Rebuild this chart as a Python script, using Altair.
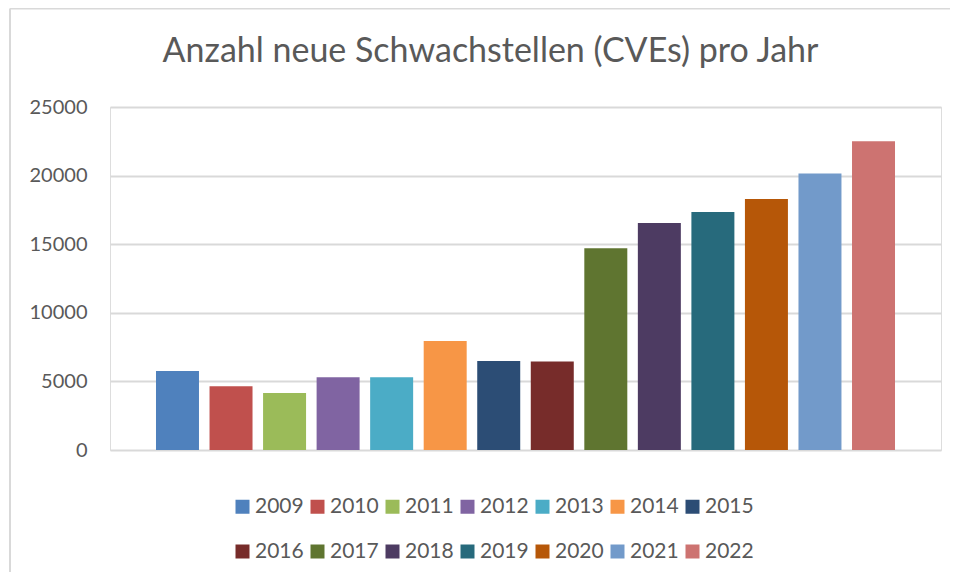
import altair as alt
import pandas as pd

years = ["2009", "2010", "2011", "2012", "2013", "2014", "2015",
         "2016", "2017", "2018", "2019", "2020", "2021", "2022"]
cves = [5750, 4650, 4150, 5300, 5300, 7940, 6480,
        6450, 14700, 16550, 17350, 18300, 20150, 22500]
colors = ["#4F81BD", "#C0504D", "#9BBB59", "#8064A2", "#4BACC6", "#F79646", "#2C4D75",
          "#772C2A", "#5F7530", "#4D3B62", "#276A7C", "#B65708", "#729ACA", "#CD7371"]
y_ticks = [0, 5000, 10000, 15000, 20000, 25000]
title_text = "Anzahl neue Schwachstellen (CVEs) pro Jahr"

df = pd.DataFrame({"Jahr": years, "CVEs": cves})

FONT = "Lato"
TXT = "#595959"
GRID = "#d9d9d9"

bars = alt.Chart(df).mark_bar().encode(
    x=alt.X("Jahr:N", sort=years, axis=None,
            scale=alt.Scale(paddingInner=0.197, paddingOuter=0.859)),
    y=alt.Y("CVEs:Q",
            scale=alt.Scale(domain=[0, 25000], nice=False),
            axis=alt.Axis(values=y_ticks, title=None, ticks=False, tickSize=0, domain=False,
                          grid=True, gridColor=GRID, gridWidth=2,
                          labelFont=FONT, labelFontSize=20, labelColor=TXT,
                          labelPadding=23, format="d")),
    color=alt.Color("Jahr:N", sort=years,
                    scale=alt.Scale(domain=years, range=colors),
                    legend=alt.Legend(title=None, orient="none", legendX=122, legendY=389,
                                      columns=7, direction="horizontal",
                                      symbolType="square", symbolSize=196,
                                      symbolStrokeWidth=0, labelOffset=2,
                                      labelFont=FONT, labelFontSize=21, labelColor=TXT,
                                      columnPadding=3, rowPadding=23, padding=0)),
)

frame_df = pd.DataFrame({"k": [0]})
top_line = alt.Chart(frame_df).mark_rule(color=GRID, strokeWidth=2).encode(
    x=alt.value(-100), x2=alt.value(900), y=alt.value(-98.5))
left_line = alt.Chart(frame_df).mark_rule(color=GRID, strokeWidth=2).encode(
    x=alt.value(-100), y=alt.value(-98.5), y2=alt.value(600))

chart = alt.layer(bars, top_line, left_line).properties(
    width=831, height=343,
    title=alt.TitleParams(title_text, font=FONT, fontSize=34, fontWeight="normal",
                          color=TXT, anchor="middle", frame="group",
                          baseline="alphabetic", offset=0, dx=-35, dy=88.5),
    autosize=alt.AutoSizeParams(type="none"),
    padding={"left": 102, "top": 99, "right": 9, "bottom": 122},
).configure_view(stroke=None).configure(background="white")

chart.save("out.html", embed_options={"renderer": "svg", "actions": False})
